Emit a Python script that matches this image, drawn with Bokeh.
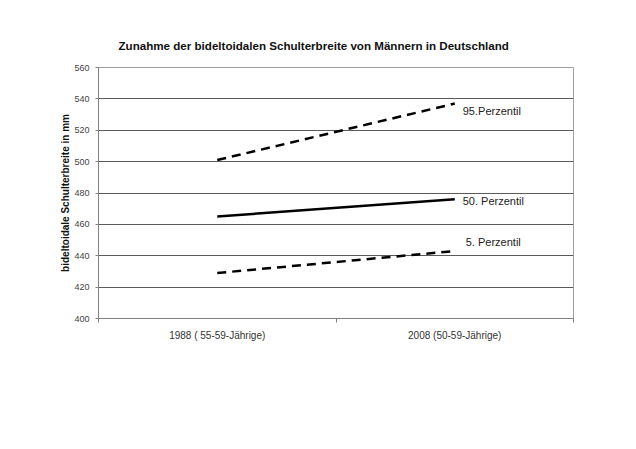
from bokeh.plotting import figure
from bokeh.models import ColumnDataSource, Range1d, FixedTicker, Title
from bokeh.core.properties import value
from bokeh.embed import file_html
from bokeh.resources import INLINE

# ---- data ----
categories = ["1988 ( 55-59-Jährige)", "2008 (50-59-Jährige)"]
p95 = [501, 537]
p50 = [465, 476]
p5 = [429, 443]
series_names = ["95.Perzentil", "50. Perzentil", "5. Perzentil"]
y_ticks = [400, 420, 440, 460, 480, 500, 520, 540, 560]

FONT = "Liberation Sans"
xs = [i + 0.5 for i in range(len(categories))]

p = figure(width=620, height=433, output_backend="svg", toolbar_location=None,
           x_range=Range1d(0, len(categories)), y_range=Range1d(400, 560),
           min_border_left=98, min_border_right=47, min_border_top=67, min_border_bottom=115)
p.background_fill_color = "white"
p.border_fill_color = "white"
p.outline_line_color = "#a0a0a0"
p.outline_line_width = 1

p.title = Title(text="Zunahme der bideltoidalen Schulterbreite von Männern in Deutschland",
                text_font=FONT, text_font_size="11.6px", text_font_style="bold",
                align="left", text_color="#111111", offset=20)
p.title.standoff = 32

# grid
p.xgrid.grid_line_color = None
p.ygrid.grid_line_color = "#5a5a5a"
p.ygrid.grid_line_width = 1

# y axis
p.yaxis.ticker = FixedTicker(ticks=y_ticks)
p.yaxis.axis_label = "bideltoidale Schulterbreite in mm"
p.yaxis.axis_label_text_font = FONT
p.yaxis.axis_label_text_font_size = "10px"
p.yaxis.axis_label_text_font_style = "bold"
p.yaxis.axis_label_text_color = "#111111"
p.yaxis.axis_label_standoff = 0
p.yaxis.major_label_text_font = FONT
p.yaxis.major_label_text_font_size = "9px"
p.yaxis.major_label_text_color = "#444444"
p.yaxis.major_label_standoff = 6
p.yaxis.axis_line_color = "#808080"
p.yaxis.major_tick_line_color = "#808080"
p.yaxis.major_tick_out = 3
p.yaxis.major_tick_in = 0
p.yaxis.minor_tick_line_color = None

# x axis
p.xaxis.ticker = FixedTicker(ticks=xs, minor_ticks=[0, 1, 2])
p.xaxis.major_label_overrides = {x: c for x, c in zip(xs, categories)}
p.xaxis.major_label_text_font = FONT
p.xaxis.major_label_text_font_size = "10px"
p.xaxis.major_label_text_color = "#333333"
p.xaxis.major_label_standoff = 5
p.xaxis.major_tick_line_color = None
p.xaxis.minor_tick_line_color = "#808080"
p.xaxis.minor_tick_out = 4
p.xaxis.minor_tick_in = 0
p.xaxis.axis_line_color = "#808080"

# lines
p.line(xs, p95, line_color="black", line_width=2.5, line_dash="9 6")
p.line(xs, p50, line_color="black", line_width=2.5)
p.line(xs, p5, line_color="black", line_width=2.5, line_dash="9 6")

# labels at line ends
label_y_offsets = [7, 2, -9]
label_x_offsets = [8, 8, 11]
src = ColumnDataSource(dict(
    x=[xs[-1]] * 3,
    y=[p95[-1], p50[-1], p5[-1]],
    text=series_names,
    yo=label_y_offsets,
    xo=label_x_offsets,
))
p.text(x="x", y="y", text="text", source=src, x_offset="xo", y_offset="yo",
       text_font=value(FONT), text_font_size="11px", text_color="#222222",
       text_baseline="middle", text_align="left")

open("out.html", "w").write(file_html(p, INLINE))
